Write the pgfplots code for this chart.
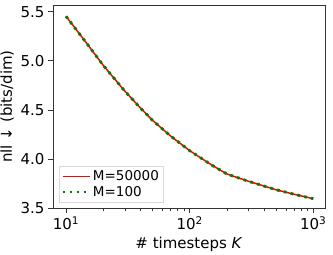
\documentclass[border=0pt]{standalone}
\usepackage{fontspec}
\setmainfont{DejaVu Sans}
\usepackage{pgfplots}
\pgfplotsset{compat=1.18}
\pgfplotstableread{
K y
10 5.455
15 5.165
20 4.955
30 4.69
40 4.52
50 4.395
70 4.235
100 4.085
150 3.94
200 3.847
300 3.772
500 3.686
700 3.640
1000 3.595
}\datatab
\definecolor{mplred}{RGB}{255,0,0}
\definecolor{mplgreen}{RGB}{0,128,0}
\begin{document}
\begin{tikzpicture}
\begin{axis}[
  scale only axis, width=272pt, height=203pt,
  xmode=log, xmin=7.85, xmax=1244, ymin=3.5, ymax=5.57,
  ytick={3.5,4.0,4.5,5.0,5.5},
  yticklabels={3.5,4.0,4.5,5.0,5.5},
  xtick={10,100,1000},
  xticklabels={10\textsuperscript{1},10\textsuperscript{2},10\textsuperscript{3}},
  tick align=outside, tick pos=left,
  major tick length=5pt, minor tick length=3pt,
  major tick style={black!80, line width=0.8pt},
  minor tick style={black!80, line width=0.6pt},
  axis line style={draw=black!80, line width=0.8pt},
  tick label style={font=\fontsize{15}{18}\selectfont},
  label style={font=\fontsize{15}{18}\selectfont},
  xlabel={\# timesteps \textit{K}},
  ylabel={nll ↓ (bits/dim)},
  legend style={at={(0.022,0.03)}, anchor=south west, font=\fontsize{13.5}{16}\selectfont,
    draw=black!15, inner sep=2pt},
  legend cell align=left,
]
\addlegendimage{legend image code/.code={\draw[draw=mplred, line width=1.5pt] (0pt,0pt) -- (27pt,0pt);}}
\addlegendentry{M=50000}
\addlegendimage{legend image code/.code={\draw[draw=mplgreen, line width=2.8pt, dash pattern=on 2.8pt off 4.2pt] (0pt,0pt) -- (27pt,0pt);}}
\addlegendentry{M=100}
\addplot[mplred, line width=1.5pt, forget plot] table[x=K,y=y] {\datatab};
\addplot[mplgreen, line width=2.8pt, dash pattern=on 2.8pt off 4.2pt, forget plot] table[x=K,y=y] {\datatab};
\end{axis}
\pgfresetboundingbox
\path[use as bounding box] ([shift={(-53pt,-46pt)}]current axis.south west) rectangle ([shift={(8pt,5pt)}]current axis.north east);
\end{tikzpicture}
\end{document}
